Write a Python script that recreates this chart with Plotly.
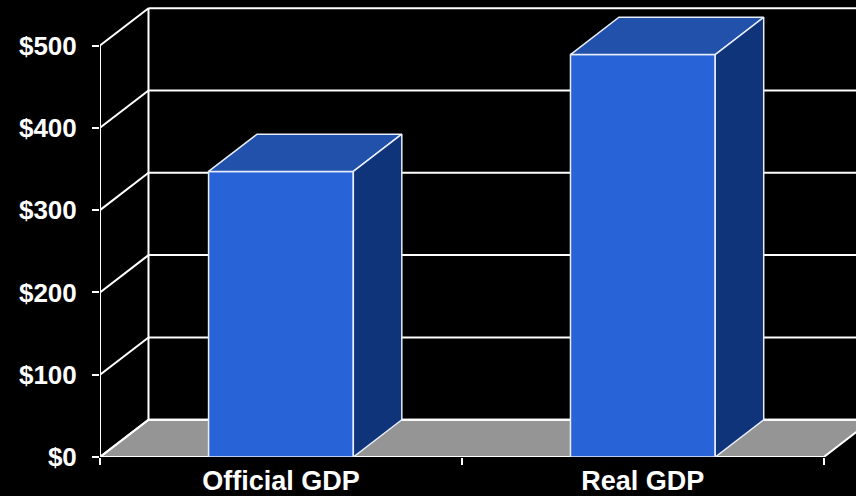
import plotly.graph_objects as go

categories = ["Official GDP", "Real GDP"]
values = [347, 489]
y_ticks = [0, 100, 200, 300, 400, 500]
y_tick_labels = ["$0", "$100", "$200", "$300", "$400", "$500"]

# 3D depth offsets (in axis units)
DX = 0.134
DZ = 45.3
BAR_W = 0.4

FRONT = "#2863D8"
TOP = "#2151AA"
SIDE = "#10347A"
FLOOR = "#959595"
WHITE = "#FFFFFF"
EDGE = "#E8EEFA"

xpos = list(range(len(categories)))
x_left = -0.5
x_right = len(categories) - 0.5

fig = go.Figure()
shapes = []

# floor
shapes.append(dict(type="path", xref="x", yref="y", layer="below",
                   path=f"M {x_left},0 L {x_right},0 L {x_right+DX},{DZ} L {x_left+DX},{DZ} Z",
                   fillcolor=FLOOR, line=dict(color=WHITE, width=2)))
# back wall gridlines and side wall diagonals
for v in y_ticks:
    shapes.append(dict(type="line", xref="x", yref="y", layer="below",
                       x0=x_left + DX, y0=v + DZ, x1=x_right + DX + 0.3, y1=v + DZ,
                       line=dict(color=WHITE, width=2)))
    shapes.append(dict(type="line", xref="x", yref="y", layer="below",
                       x0=x_left, y0=v, x1=x_left + DX, y1=v + DZ,
                       line=dict(color=WHITE, width=2)))
# back wall left edge
shapes.append(dict(type="line", xref="x", yref="y", layer="below",
                   x0=x_left + DX, y0=DZ, x1=x_left + DX, y1=y_ticks[-1] + DZ,
                   line=dict(color=WHITE, width=2)))
# front value axis line
shapes.append(dict(type="line", xref="x", yref="y", layer="below",
                   x0=x_left, y0=0, x1=x_left, y1=y_ticks[-1],
                   line=dict(color=WHITE, width=2)))

# front faces
fig.add_trace(go.Bar(x=xpos, y=values, width=BAR_W,
                     marker=dict(color=FRONT, line=dict(color=EDGE, width=1.5)),
                     hoverinfo="skip"))

# top and side faces
for x, v in zip(xpos, values):
    x0, x1 = x - BAR_W / 2, x + BAR_W / 2
    fig.add_trace(go.Scatter(x=[x0, x1, x1 + DX, x0 + DX, x0],
                             y=[v, v, v + DZ, v + DZ, v],
                             mode="lines", fill="toself", fillcolor=TOP,
                             line=dict(color=EDGE, width=1.5), hoverinfo="skip"))
    fig.add_trace(go.Scatter(x=[x1, x1 + DX, x1 + DX, x1, x1],
                             y=[0, DZ, v + DZ, v, 0],
                             mode="lines", fill="toself", fillcolor=SIDE,
                             line=dict(color=EDGE, width=1.5), hoverinfo="skip"))

fig.update_layout(
    width=856, height=496,
    margin=dict(l=100, r=0, t=0, b=39),
    paper_bgcolor="black", plot_bgcolor="black",
    showlegend=False, shapes=shapes, hovermode=False,
    font=dict(family="Liberation Sans, Arial, sans-serif", color=WHITE, size=24),
    xaxis=dict(range=[x_left, x_left + 756 / 361.9], showgrid=False, zeroline=False,
               showline=False, tickmode="array", tickvals=xpos, ticktext=categories,
               ticks="", automargin=False, ticklabelstandoff=5,
               tickfont=dict(size=27, weight="bold", color=WHITE),
               minor=dict(tickmode="array", tickvals=[x_left + i for i in range(len(categories) + 1)],
                          ticks="outside", ticklen=7, tickwidth=2, tickcolor=WHITE),
               fixedrange=True),
    yaxis=dict(range=[0, 457 / 0.823], showgrid=False, zeroline=False, showline=False,
               tickmode="array", tickvals=y_ticks, ticktext=y_tick_labels,
               ticks="outside", ticklen=7, tickwidth=2, tickcolor=WHITE,
               ticklabelstandoff=10, automargin=False,
               tickfont=dict(size=26, weight="bold", color=WHITE), fixedrange=True),
)

fig.write_html("out.html", config={"displayModeBar": False},
               post_script="document.body.style.margin='0';document.body.style.overflow='hidden';document.body.style.background='black';")
